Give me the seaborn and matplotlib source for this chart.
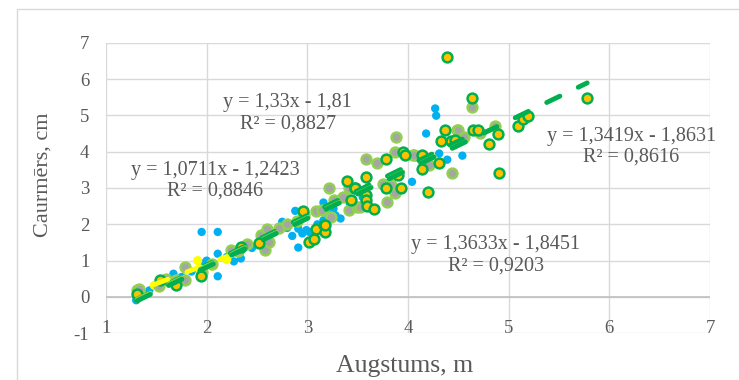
import numpy as np
import pandas as pd
import matplotlib
matplotlib.use("Agg")
import matplotlib.pyplot as plt
import seaborn as sns
from matplotlib.patches import Rectangle

# ---------------- data ----------------
blue_x = [1.30, 1.35, 1.43, 1.52, 1.62, 1.67, 1.75, 1.85, 1.95, 1.95, 2.00, 2.05, 2.11, 2.11, 2.11, 2.20,
          2.27, 2.34, 2.36, 2.45, 2.55, 2.62, 2.75, 2.80, 2.85, 2.88, 2.91, 2.91, 2.95, 2.99, 3.02, 3.10,
          3.16, 3.16, 3.22, 3.26, 3.28, 3.33, 3.42, 3.55, 4.04, 4.18, 4.27, 4.28, 4.31, 4.39, 4.54]
blue_y = [-0.09, 0.05, 0.18, 0.30, 0.45, 0.64, 0.55, 0.70, 1.79, 0.92, 1.00, 0.85, 1.79, 1.19, 0.57, 1.10,
          0.98, 1.06, 1.42, 1.35, 1.55, 1.60, 2.07, 1.90, 1.68, 2.37, 1.88, 1.36, 1.75, 1.84, 1.79, 2.00,
          2.60, 2.11, 2.25, 2.43, 2.25, 2.16, 2.60, 2.75, 3.17, 4.50, 5.19, 4.99, 3.95, 3.78, 3.89]

yellow_x = [1.48, 1.55, 1.65, 1.91, 2.05, 2.20]
yellow_y = [0.32, 0.45, 0.42, 1.00, 0.85, 1.03]

gray_x = [1.31, 1.33, 1.53, 1.60, 1.70, 1.78, 1.78, 1.95, 2.05, 2.24, 2.31, 2.40, 2.54, 2.58, 2.60, 2.62,
          2.72, 2.80, 2.90, 2.97, 3.09, 3.15, 3.22, 3.24, 3.26, 3.35, 3.41, 3.41, 3.49, 3.52, 3.58, 3.69,
          3.75, 3.79, 3.83, 3.87, 3.88, 3.87, 4.05, 4.06, 4.21, 4.44, 4.49, 4.50, 4.56, 4.64, 4.72, 4.86]
gray_y = [0.18, 0.22, 0.29, 0.50, 0.46, 0.83, 0.46, 0.70, 0.90, 1.30, 1.27, 1.45, 1.70, 1.30, 1.88, 1.52,
          1.90, 2.00, 2.09, 2.25, 2.37, 2.40, 2.99, 2.19, 2.68, 2.75, 2.39, 2.99, 2.48, 2.48, 3.81, 3.70,
          3.10, 2.62, 3.08, 2.87, 4.41, 4.00, 3.90, 3.90, 3.63, 3.40, 4.61, 4.61, 4.41, 5.22, 4.52, 4.70]

gold_x = [1.31, 1.54, 1.70, 1.94, 2.34, 2.52, 2.96, 3.02, 3.07, 3.09, 3.17, 3.18, 3.18, 3.39, 3.43, 3.47,
          3.47, 3.58, 3.58, 3.58, 3.59, 3.66, 3.78, 3.78, 3.90, 3.93, 3.95, 3.97, 4.14, 4.14, 4.20, 4.31,
          4.33, 4.37, 4.39, 4.43, 4.47, 4.64, 4.65, 4.70, 4.80, 4.89, 4.90, 5.09, 5.14, 5.19, 5.78]
gold_y = [0.09, 0.48, 0.32, 0.58, 1.38, 1.49, 2.37, 1.50, 1.59, 1.87, 1.98, 1.79, 1.97, 3.20, 2.68, 3.00,
          2.99, 3.31, 2.80, 2.66, 2.50, 2.41, 3.80, 2.99, 3.37, 2.99, 4.00, 3.90, 3.90, 3.51, 2.89, 3.69,
          4.30, 4.59, 6.60, 4.30, 4.31, 5.49, 4.61, 4.61, 4.20, 4.50, 3.40, 4.70, 4.89, 4.98, 5.49]

# trendline coefficients (slope, intercept) as printed on the chart
trend_slope = [1.3633, 1.0711, 1.33, 1.3419]
trend_intercept = [-1.8451, -1.2423, -1.81, -1.8631]
eq_labels = ["y = 1,3633x - 1,8451\nR² = 0,9203",
             "y = 1,0711x - 1,2423\nR² = 0,8846",
             "y = 1,33x - 1,81\nR² = 0,8827",
             "y = 1,3419x - 1,8631\nR² = 0,8616"]
eq_pos = [(4.87, 1.15), (2.086, 3.20), (2.806, 5.06), (6.22, 4.14)]

x_ticks = [1, 2, 3, 4, 5, 6, 7]
y_ticks = [-1, 0, 1, 2, 3, 4, 5, 6, 7]
x_title = "Augstums, m"
y_title = "Caurmērs, cm"

# ---------------- style ----------------
sns.set_theme(style="white")
plt.rcParams['font.family'] = ['Liberation Serif', 'DejaVu Serif']
txt = "#595959"

fig = plt.figure(figsize=(7.39, 3.80), dpi=100)
ax = fig.add_axes([106 / 739, 1 - 333.3 / 380, (710 - 106) / 739, (333.3 - 42.7) / 380])

series = [
    dict(x=blue_x, y=blue_y, fc="#00B0F0", ec="none", s=36, lw=0, tc="#00B050"),
    dict(x=yellow_x, y=yellow_y, fc="#FFFF00", ec="none", s=44, lw=0, tc="#FFFF00"),
    dict(x=gray_x, y=gray_y, fc="#A5A5A5", ec="#92D050", s=50, lw=1.8, tc="#92D050"),
    dict(x=gold_x, y=gold_y, fc="#FFC000", ec="#00B050", s=50, lw=1.8, tc="#00B050"),
]

for sd in series:
    df = pd.DataFrame({"x": sd["x"], "y": sd["y"]})
    sns.scatterplot(data=df, x="x", y="y", ax=ax, color=sd["fc"], edgecolor=sd["ec"],
                    s=sd["s"], linewidth=sd["lw"], zorder=3, legend=False)

for sd, m, b in zip(series, trend_slope, trend_intercept):
    xs = np.array([min(sd["x"]), max(sd["x"])])
    ax.plot(xs, m * xs + b, color=sd["tc"], lw=3.5, dashes=(3.0, 4.2),
            dash_capstyle="round", solid_capstyle="round", zorder=4)

for lab, (px, py) in zip(eq_labels, eq_pos):
    ax.text(px, py, lab, ha="center", va="center", multialignment="center",
            fontsize=14.5, color=txt, linespacing=1.15, zorder=5)

ax.set_xlim(1, 7)
ax.set_ylim(-1, 7)
ax.set_xticks(x_ticks)
ax.set_yticks(y_ticks)
ax.set_xticklabels([str(v) for v in x_ticks])
ax.set_yticklabels([str(v) for v in y_ticks])
ax.grid(True, color="#D9D9D9", lw=1.0, zorder=0)
ax.set_axisbelow(True)
ax.axhline(0, color="#BFBFBF", lw=1.2, zorder=1)
for sp in ax.spines.values():
    sp.set_visible(False)
ax.tick_params(axis="both", length=0, labelsize=13.5, colors=txt)
ax.tick_params(axis="y", pad=12)
ax.tick_params(axis="x", pad=-9.5)
ax.set_xlabel("")
ax.set_ylabel("")

fig.text(405 / 739, 1 - 372 / 380, x_title, ha="center", va="baseline", fontsize=18.5, color=txt)
fig.text(43 / 739, 1 - 175 / 380, y_title, ha="center", va="center", rotation=90, fontsize=16, color=txt)

fig.patches.append(Rectangle((16.5 / 739, -0.05), 1.1, 1 - 9.3 / 380 + 0.05, transform=fig.transFigure,
                             fill=False, edgecolor="#D9D9D9", lw=1.0, zorder=0))

fig.savefig("out.png", dpi=100)
